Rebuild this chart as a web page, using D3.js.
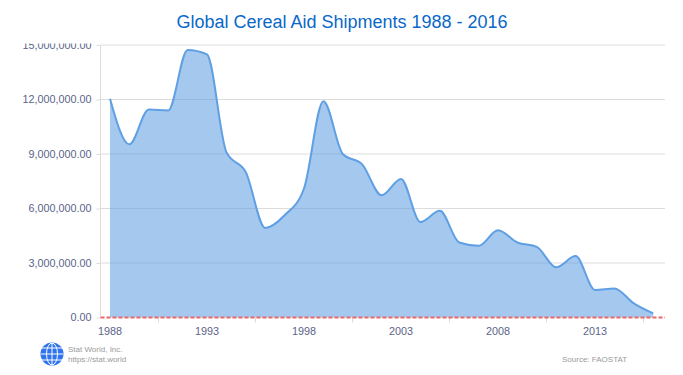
<!DOCTYPE html>
<html>
<head>
<meta charset="utf-8">
<script src="https://cdn.jsdelivr.net/npm/d3@7"></script>
<style>
body { margin: 0; background: #fff; font-family: "Liberation Sans", Arial, sans-serif; }
</style>
</head>
<body>
<div id="chart"></div>
<script>
var years = d3.range(1988, 2017);
var shipments = [12040000, 9530000, 11450000, 11400000, 14730000, 14480000, 9100000, 8000000,
    4930000, 5630000, 7100000, 11900000, 9000000, 8430000, 6730000, 7630000, 5260000, 5870000,
    4130000, 3950000, 4800000, 4130000, 3890000, 2760000, 3380000, 1520000, 1600000, 780000, 230000];
var yTicks = [0, 3000000, 6000000, 9000000, 12000000, 15000000];
var xLabels = [1988, 1993, 1998, 2003, 2008, 2013];
var xTickMarks = [1990.5, 1995.5, 2000.5, 2005.5, 2010.5, 2015.5];

var margin = {top: 45, right: 665, bottom: 317.5, left: 100.5};

var svg = d3.select("#chart").append("svg")
    .attr("width", 683)
    .attr("height", 375)
    .style("display", "block");

var x = d3.scaleLinear().domain([1988, 2013]).range([110, 595]);
var y = d3.scaleLinear().domain([0, 15000000]).range([margin.bottom, margin.top]);

//the top tick label is cut off in the original
svg.append("clipPath").attr("id", "yclip")
    .append("rect").attr("x", -110).attr("y", 43.5).attr("width", 683).attr("height", 300);

//title
svg.append("text")
    .attr("x", 342)
    .attr("y", 28)
    .attr("text-anchor", "middle")
    .attr("font-size", 18)
    .attr("fill", "#0a68c8")
    .text("Global Cereal Aid Shipments 1988 - 2016");

//grid
svg.append("g").selectAll("line")
    .data(yTicks.slice(1))
    .join("line")
    .attr("x1", margin.left).attr("x2", margin.right)
    .attr("y1", d => y(d)).attr("y2", d => y(d))
    .attr("stroke", "#dcdcdc");

//area and line
var area = d3.area()
    .x((d, i) => x(years[i]))
    .y0(y(0))
    .y1(d => y(d))
    .curve(d3.curveMonotoneX);
var line = d3.line()
    .x((d, i) => x(years[i]))
    .y(d => y(d))
    .curve(d3.curveMonotoneX);

svg.append("path").attr("d", area(shipments)).attr("fill", "#5b9be0").attr("fill-opacity", 0.55);
svg.append("path").attr("d", line(shipments)).attr("fill", "none").attr("stroke", "#5f9fe3").attr("stroke-width", 2);

//y axis
var yAxis = svg.append("g")
    .attr("transform", "translate(" + margin.left + ",0)")
    .attr("clip-path", "url(#yclip)")
    .call(d3.axisLeft(y).tickValues(yTicks).tickSize(4).tickPadding(5).tickFormat(d3.format(",.2f")));
yAxis.selectAll("text").attr("font-size", 10.8).attr("fill", "#5a6488").attr("font-family", "Liberation Sans");
yAxis.selectAll("line").attr("stroke", "#dcdcdc");
yAxis.select(".domain").attr("stroke", "#dcdcdc").attr("d", "M0," + margin.top + "V" + margin.bottom);

//x axis
var xAxis = svg.append("g")
    .attr("transform", "translate(0," + margin.bottom + ")");
xAxis.selectAll("line")
    .data(xTickMarks)
    .join("line")
    .attr("x1", d => x(d)).attr("x2", d => x(d))
    .attr("y1", 0).attr("y2", 5)
    .attr("stroke", "#dcdcdc");
xAxis.selectAll("text")
    .data(xLabels)
    .join("text")
    .attr("x", d => x(d))
    .attr("y", 17)
    .attr("text-anchor", "middle")
    .attr("font-size", 10.8)
    .attr("fill", "#5a6488")
    .text(d => d);

//zero line
svg.append("line")
    .attr("x1", margin.left).attr("x2", margin.right)
    .attr("y1", y(0)).attr("y2", y(0))
    .attr("stroke", "#e8686c")
    .attr("stroke-width", 2)
    .attr("stroke-dasharray", "4,2");

//globe logo
var logo = svg.append("g").attr("transform", "translate(52,354)");
logo.append("circle").attr("r", 11.5).attr("fill", "#2f74ee");
logo.selectAll("line.h").data([-6, 0, 6]).join("line").attr("class", "h")
    .attr("x1", -11).attr("x2", 11).attr("y1", d => d).attr("y2", d => d)
    .attr("stroke", "#fff").attr("stroke-width", 1);
logo.append("line").attr("y1", -11).attr("y2", 11).attr("stroke", "#fff");
logo.append("ellipse").attr("rx", 5.5).attr("ry", 11).attr("fill", "none").attr("stroke", "#fff");

//footer
var footer = [["Stat World, Inc.", 68, 352], ["https://stat.world", 68, 362]];
svg.selectAll("text.foot").data(footer).join("text").attr("class", "foot")
    .attr("x", d => d[1]).attr("y", d => d[2])
    .attr("font-size", 8).attr("fill", "#9a9a9a").text(d => d[0]);
svg.append("text")
    .attr("x", 562).attr("y", 362)
    .attr("font-size", 8).attr("fill", "#9a9a9a")
    .text("Source: FAOSTAT");
</script>
</body>
</html>
